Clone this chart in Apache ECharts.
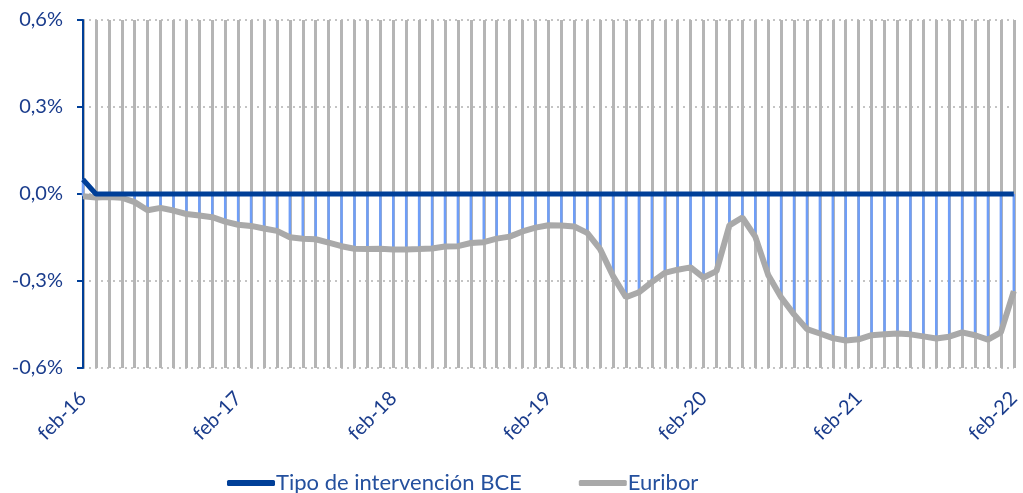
<!DOCTYPE html>
<html>
<head>
<meta charset="utf-8">
<script src="https://cdn.jsdelivr.net/npm/echarts@6/dist/echarts.min.js"></script>
<style>
  html, body { margin: 0; padding: 0; background: #fff; }
  #chart { width: 1023px; height: 493px; }
</style>
</head>
<body>
<div id="chart"></div>
<script>
// meses feb-16 .. feb-22
var meses = ['ene', 'feb', 'mar', 'abr', 'may', 'jun', 'jul', 'ago', 'sep', 'oct', 'nov', 'dic'];
var categorias = [];
for (var y = 16; y <= 22; y++) {
  for (var m = 0; m < 12; m++) {
    if (y === 16 && m < 1) continue;
    if (y === 22 && m > 1) continue;
    categorias.push(meses[m] + '-' + y);
  }
}

var tipoBCE = [
  0.05, 0, 0, 0, 0, 0, 0, 0, 0, 0, 0,
  0, 0, 0, 0, 0, 0, 0, 0, 0, 0, 0, 0,
  0, 0, 0, 0, 0, 0, 0, 0, 0, 0, 0, 0,
  0, 0, 0, 0, 0, 0, 0, 0, 0, 0, 0, 0,
  0, 0, 0, 0, 0, 0, 0, 0, 0, 0, 0, 0,
  0, 0, 0, 0, 0, 0, 0, 0, 0, 0, 0, 0,
  0, 0
];

var euribor = [
  -0.008, -0.012, -0.010, -0.013, -0.028, -0.056, -0.048, -0.057, -0.069, -0.074, -0.080,
  -0.095, -0.106, -0.110, -0.119, -0.127, -0.149, -0.154, -0.156, -0.168, -0.180, -0.189, -0.190,
  -0.189, -0.191, -0.191, -0.190, -0.188, -0.181, -0.180, -0.169, -0.166, -0.154, -0.147, -0.129,
  -0.116, -0.108, -0.109, -0.112, -0.134, -0.190, -0.283, -0.356, -0.339, -0.304, -0.272, -0.261,
  -0.253, -0.288, -0.266, -0.108, -0.081, -0.147, -0.279, -0.356, -0.415, -0.466, -0.481, -0.497,
  -0.505, -0.501, -0.487, -0.484, -0.481, -0.484, -0.491, -0.498, -0.492, -0.477, -0.487, -0.502,
  -0.477, -0.335
];

var azul = '#003f98';
var gris = '#a9a9a9';
var textoAzul = '#1a3c8c';

var chart = echarts.init(document.getElementById('chart'));

var option = {
  animation: false,
  grid: { left: 83, right: 5, top: 20, bottom: 125, containLabel: false },
  legend: {
    data: ['Tipo de intervención BCE', 'Euribor'],
    bottom: -6,
    left: 222,
    icon: 'roundRect',
    itemWidth: 48,
    itemHeight: 6,
    itemGap: 57,
    textStyle: { color: '#24509e', fontSize: 22, fontFamily: 'Lato', padding: [0, 0, 0, -4] }
  },
  xAxis: {
    type: 'category',
    data: categorias,
    boundaryGap: false,
    axisLine: { show: false },
    axisTick: { show: false },
    axisLabel: {
      interval: 11,
      rotate: 45,
      margin: 27,
      color: textoAzul,
      fontSize: 20,
      fontFamily: 'Lato'
    },
    splitLine: {
      show: true,
      interval: 0,
      lineStyle: { color: '#b5b5b5', width: 3 }
    }
  },
  yAxis: {
    type: 'value',
    min: -0.6,
    max: 0.6,
    interval: 0.3,
    axisLine: { show: true, onZero: false, lineStyle: { color: azul, width: 2 } },
    axisTick: { show: true, inside: false, length: 6, lineStyle: { color: azul, width: 2 } },
    axisLabel: {
      margin: 20,
      color: textoAzul,
      fontSize: 20,
      fontFamily: 'Lato',
      formatter: function (v) {
        return v.toFixed(1).replace('.', ',') + '%';
      }
    },
    splitLine: {
      show: true,
      lineStyle: { color: '#c4c4c4', width: 2, type: [2, 4] }
    }
  },
  series: [
    {
      // lineas verticales entre BCE y Euribor
      type: 'custom',
      name: 'hilo',
      z: 3,
      data: euribor.map(function (v, i) { return [i, tipoBCE[i], v]; }),
      renderItem: function (params, api) {
        var a = api.coord([api.value(0), api.value(1)]);
        var b = api.coord([api.value(0), api.value(2)]);
        return {
          type: 'line',
          shape: { x1: a[0], y1: a[1], x2: b[0], y2: b[1] },
          style: { stroke: '#6f9ef7', lineWidth: 2.5 }
        };
      },
      silent: true
    },
    {
      name: 'Euribor',
      type: 'line',
      data: euribor,
      z: 4,
      showSymbol: false,
      symbol: 'none',
      lineStyle: { color: gris, width: 6 },
      itemStyle: { color: gris }
    },
    {
      name: 'Tipo de intervención BCE',
      type: 'line',
      data: tipoBCE,
      z: 5,
      showSymbol: false,
      symbol: 'none',
      lineStyle: { color: azul, width: 5 },
      itemStyle: { color: azul }
    }
  ]
};

chart.setOption(option);
</script>
</body>
</html>
